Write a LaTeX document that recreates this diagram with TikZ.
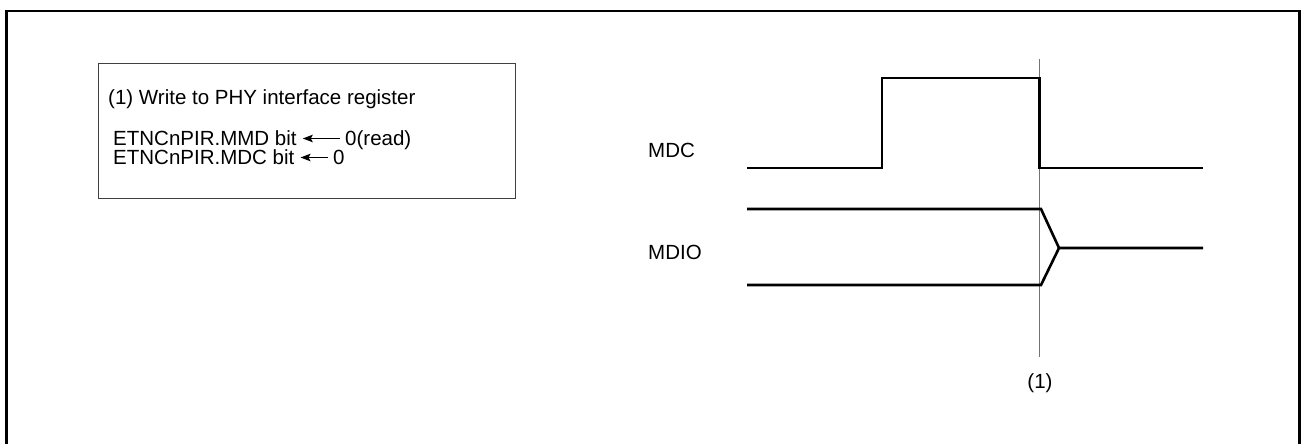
\documentclass[tikz,border=0pt]{standalone}
\usepackage{fontspec}
\setmainfont{Liberation Sans}
\usetikzlibrary{arrows.meta,calc}
\begin{document}
\begin{tikzpicture}[x=1pt,y=-1pt,
  txt/.style={font=\fontsize{20.5}{24}\selectfont, inner sep=0pt, anchor=base west},
  wave/.style={line width=2.6pt, line join=miter, line cap=butt},
  marker/.style={line width=1pt, draw=black!55},
  arr/.style={line width=1.3pt, -{Stealth[length=10pt,width=7.5pt,inset=2pt]}},
  ]
\useasboundingbox (0,0) rectangle (1301,444);
% outer frame
\draw[line width=2.3pt] (6.5,460) -- (6.5,11) -- (1299.5,11) -- (1299.5,460);
% inner box
\node[draw=black!75, line width=1pt, minimum width=417pt, minimum height=135pt, anchor=north west, inner sep=0pt] (box) at (98,63) {};
\node[txt] (l1) at (108,104) {(1) Write to PHY interface register};
\node[txt] (l2a) at (113,145) {ETNCnPIR.MMD bit};
\node[txt] (l2b) at (345,145) {0(read)};
\node[txt] (l3a) at (113,164) {ETNCnPIR.MDC bit};
\node[txt] (l3b) at (333,164) {0};
\draw[arr] ($(l2b.base west)+(-5,-6.5)$) -- ($(l2a.base east)+(6,-6.5)$);
\draw[arr] ($(l3b.base west)+(-5,-6.5)$) -- ($(l3a.base east)+(6,-6.5)$);
% labels
\node[txt] (mdc) at (648,157) {MDC};
\node[txt] (mdio) at (648,259) {MDIO};
% marker line
\coordinate (mtop) at (1039.5,59);
\coordinate (mbot) at (1039.5,357);
\draw[marker] (mtop) -- (mbot);
\node[txt, anchor=base] (m1) at (1040,388) {(1)};
% MDC waveform
\draw[wave] (747,168) -- (882,168) -- (882,78) -- (1039.5,78) -- (1039.5,168) -- (1203,168);
% MDIO waveform
\draw[wave] (747,209) -- (1041,209) -- (1059,248) -- (1203,248);
\draw[wave] (747,285) -- (1041,285) -- (1059,248);
\end{tikzpicture}
\end{document}
